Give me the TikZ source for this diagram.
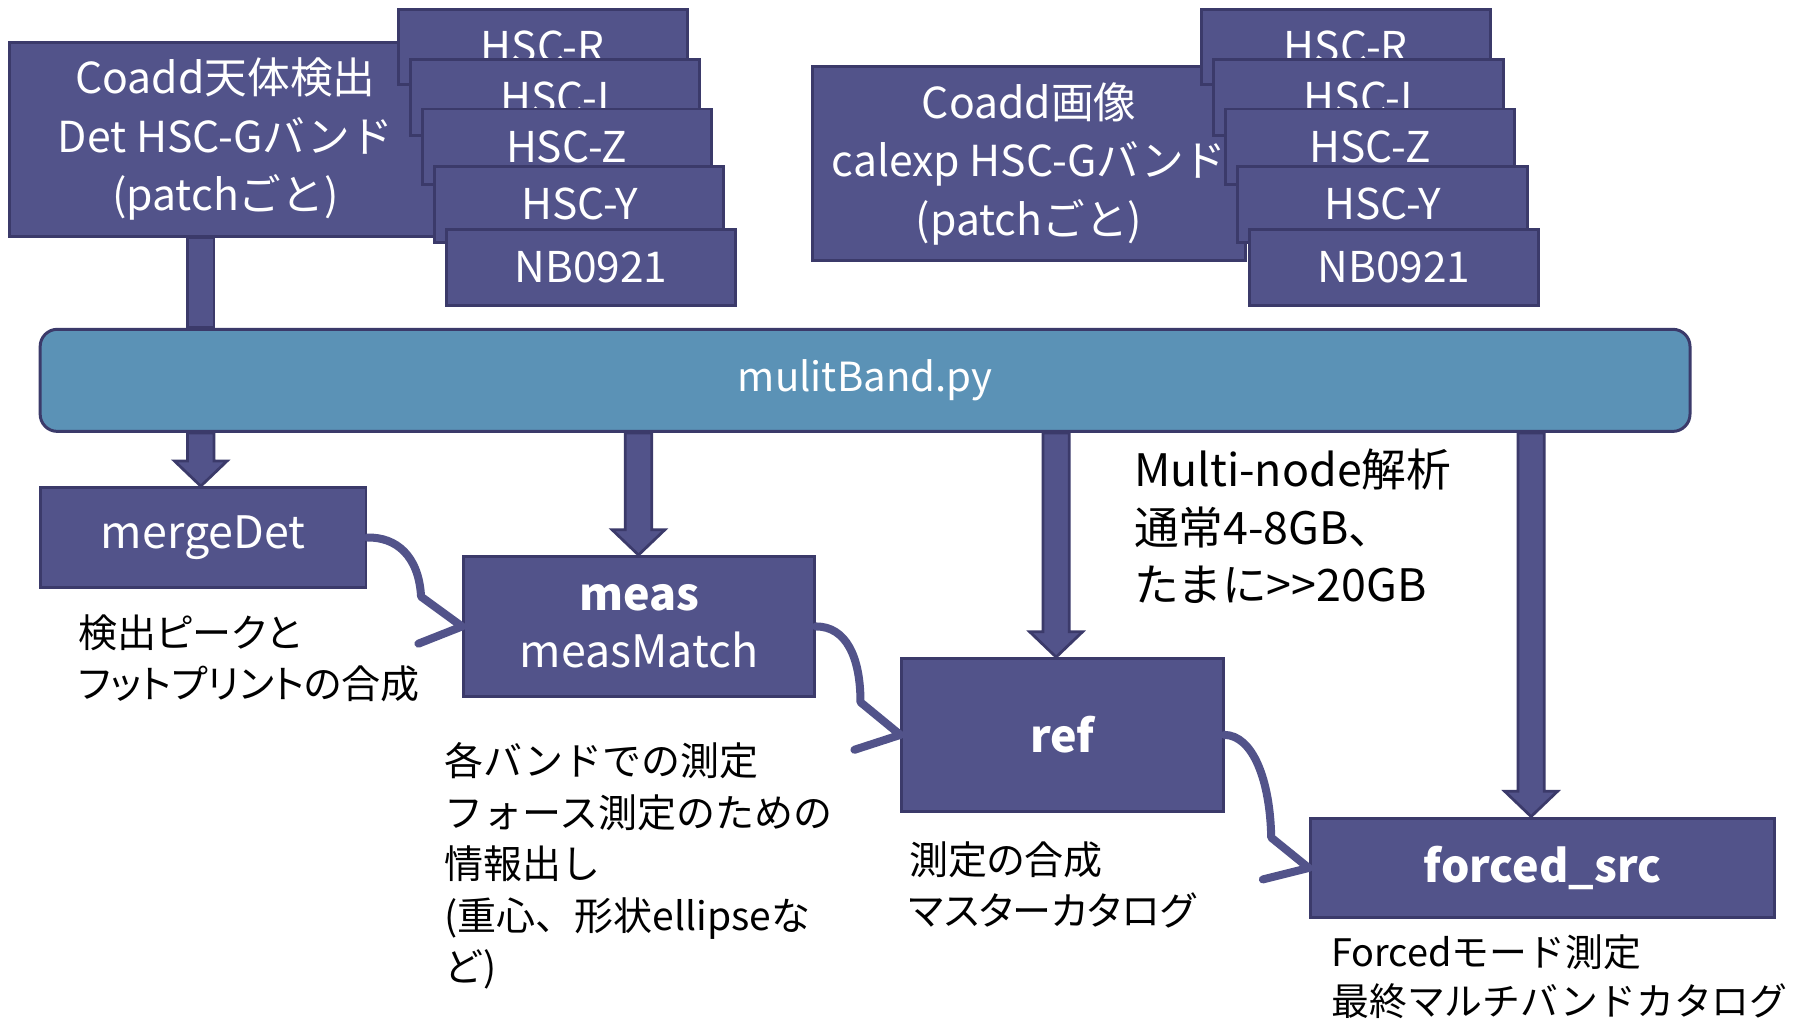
\documentclass[tikz,border=0pt]{standalone}
\usepackage{fontspec}
\setmainfont{Noto Sans CJK JP}
\newfontfamily\propja{Noto Sans CJK JP}[RawFeature=+palt]
\usetikzlibrary{calc}

\definecolor{boxfill}{RGB}{82,83,138}
\definecolor{boxline}{RGB}{59,58,106}
\definecolor{busfill}{RGB}{91,146,182}

\pgfdeclarelayer{back}
\pgfsetlayers{back,main}

\tikzset{
  pbox/.style={draw=boxline, fill=boxfill, line width=1.3pt, text=white,
    inner sep=0pt, align=center},
  srcbox/.style={pbox, minimum width=188.5pt, minimum height=84.5pt,
    font=\fontsize{18.6}{25.5}\selectfont},
  bandbox/.style={pbox, minimum width=126pt, minimum height=33pt,
    font=\fontsize{18.5}{22}\selectfont},
  blk/.style={draw=boxline, fill=boxfill, line width=1.2pt, line join=miter},
  flow/.style={draw=boxfill, line width=3.5pt, line join=round, line cap=round},
  note/.style={anchor=north west, inner sep=0pt, align=left, text=black},
}

% thick block arrow pointing down from a start point to the top of a node
\newcommand\blkdown[3]{%
  \path[blk] let \p1=(#1,0 |- #2), \p2=(#1,0 |- #3.north) in
    (\x1-5.75pt,\y1) -- (\x2-5.75pt,\y2+11pt) -- (\x2-11.5pt,\y2+11pt) -- (\x2,\y2)
    -- (\x2+11.5pt,\y2+11pt) -- (\x2+5.75pt,\y2+11pt) -- (\x1+5.75pt,\y1) -- cycle;}

\begin{document}
\begin{tikzpicture}[x=0.5pt, y=-0.5pt]
\useasboundingbox (0,0) rectangle (1568,891);
\begin{pgfonlayer}{back}
  \fill[white] (0,0) rectangle (1568,891);
\end{pgfonlayer}

% input images
\node[srcbox] (det) at (196.5,121.5) {Coadd天体検出\\Det HSC-Gバンド\\(patchごと)};
\node[srcbox] (cal) at (897,142.5) {Coadd画像\\calexp HSC-Gバンド\\(patchごと)};

\foreach \nm/\lab/\cx/\cy in {R/HSC-R/473/41, I/HSC-I/484/85, Z/HSC-Z/494/128,
                              Y/HSC-Y/505/178, N/NB0921/515/233} {
  \node[bandbox] (dband\nm) at (\cx,\cy) {\lab};
  \node[bandbox] (cband\nm) at (\cx+700,\cy) {\lab};
}

% pipeline driver
\node[pbox, fill=busfill, rounded corners=7.5pt, minimum width=719pt,
  minimum height=44.5pt, font=\fontsize{17.5}{21}\selectfont]
  (bus) at (754,331.5) {mulitBand.py};

% processing steps
\node[pbox, minimum width=142pt, minimum height=43.5pt,
  font=\fontsize{19.5}{24}\selectfont] (merge) at (177,468.5) {mergeDet};
\node[pbox, minimum width=153pt, minimum height=61pt,
  font=\fontsize{19.5}{25}\selectfont] (meas) at (557,546)
  {{\bfseries meas}\\measMatch};
\node[pbox, minimum width=140pt, minimum height=66.5pt,
  font=\fontsize{19.5}{24}\selectfont\bfseries] (ref) at (926,640.5) {ref};
\node[pbox, minimum width=202.5pt, minimum height=43.5pt,
  font=\fontsize{19.5}{24}\selectfont\bfseries] (fs) at (1344.5,756.5) {forced\_src};

% block arrows behind the boxes
\begin{pgfonlayer}{back}
  \path[blk] let \p1=(175,0 |- det.south), \p2=(175,0 |- bus.north) in
    (\x1-5.75pt,\y1) rectangle (\x2+5.75pt,\y2);
  \blkdown{175}{bus.south}{merge}
  \blkdown{556.5}{bus.south}{meas}
  \blkdown{920.5}{bus.south}{ref}
  \blkdown{1334.5}{bus.south}{fs}
\end{pgfonlayer}

% hand-over between steps
\draw[flow] (merge.east) .. controls (345,468) and (365,484) .. (367,520)
  -- (meas.west) -- ++(-38,15);
\draw[flow] (meas.east) .. controls (737,546) and (750,572) .. (750,612)
  -- (ref.west) -- ++(-40,13);
\draw[flow] (ref.east) .. controls (1092,641) and (1107,680) .. (1108,730)
  -- (fs.west) -- ++(-40,10);

% notes
\node[note, font=\propja\fontsize{17}{22.5}\selectfont] (nmerge) at (68,535)
  {検出ピークと\\フットプリントの合成};
\node[note, font=\fontsize{17}{22.4}\selectfont] (nmeas) at (387,647)
  {各バンドでの測定\\フォース測定のための\\情報出し\\(重心、形状ellipseな\\ど)};
\node[note, font=\propja\fontsize{17}{22.5}\selectfont] (nref) at (792,733)
  {測定の合成\\マスターカタログ};
\node[note, font=\fontsize{19.5}{25}\selectfont] (nmem) at (988,391)
  {Multi-node解析\\通常4-8GB、\\たまに>\kern0pt>20GB};
\node[note, font=\fontsize{16.5}{21.5}\selectfont] (nfs) at (1160,814)
  {Forcedモード測定\\最終マルチバンドカタログ};
\end{tikzpicture}
\end{document}
